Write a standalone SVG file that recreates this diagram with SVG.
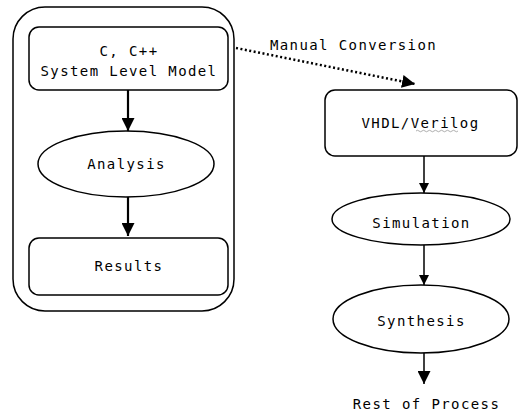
<svg xmlns="http://www.w3.org/2000/svg" width="518" height="412" viewBox="0 0 518 412">
<defs>
<style>
.box{fill:#fff;stroke:#000;stroke-width:1.5}
.lbl{font-family:"DejaVu Sans Mono","Liberation Mono",monospace;font-size:14px;letter-spacing:1.4px;fill:#000;text-anchor:middle}
.arr{stroke:#000;fill:none}
</style>
<marker id="ah" viewBox="0 0 10 10" refX="10" refY="5" markerWidth="10" markerHeight="10" markerUnits="userSpaceOnUse" orient="auto">
<path d="M0,0 L10,5 L0,10 Z" fill="#000"/>
</marker>
<marker id="ahL" viewBox="0 0 10 10" refX="10" refY="5" markerWidth="13" markerHeight="13" markerUnits="userSpaceOnUse" orient="auto">
<path d="M0,0 L10,5 L0,10 Z" fill="#000"/>
</marker>
</defs>
<rect width="518" height="412" fill="#fff"/>
<g id="container">
<rect class="box" x="13" y="7" width="221" height="304" rx="32" ry="32"/>
</g>
<g id="system-model">
<rect class="box" x="29" y="27" width="199" height="63" rx="10" ry="10"/>
<text class="lbl" x="129" y="56">C, C++</text>
<text class="lbl" x="129" y="76">System Level Model</text>
</g>
<g id="analysis">
<ellipse class="box" cx="126" cy="164" rx="88" ry="33"/>
<text class="lbl" x="126.5" y="169">Analysis</text>
</g>
<g id="results">
<rect class="box" x="29" y="238" width="199" height="57" rx="10" ry="10"/>
<text class="lbl" x="129" y="271">Results</text>
</g>
<g id="vhdl">
<rect class="box" x="325" y="90" width="192" height="66" rx="10" ry="10"/>
<text class="lbl" x="420.5" y="128">VHDL/Verilog</text>
<path d="M416,131 q1.5,-1.5 3,0 t3,0 t3,0 t3,0 t3,0 t3,0 t3,0 t3,0 t3,0 t3,0 t3,0 t3,0 t3,0 t3,0" stroke="#999" stroke-width="0.8" fill="none"/>
</g>
<g id="simulation">
<ellipse class="box" cx="421" cy="219" rx="89" ry="26"/>
<text class="lbl" x="421.5" y="228">Simulation</text>
</g>
<g id="synthesis">
<ellipse class="box" cx="421" cy="319" rx="88" ry="34"/>
<text class="lbl" x="421.5" y="326">Synthesis</text>
</g>
<g id="rest">
<text class="lbl" x="426.5" y="409">Rest of Process</text>
</g>
<g id="connectors">
<line class="arr" x1="128" y1="90" x2="128" y2="131" stroke-width="2.2" marker-end="url(#ahL)"/>
<line class="arr" x1="128" y1="197" x2="128" y2="236" stroke-width="2.2" marker-end="url(#ahL)"/>
<line class="arr" x1="236" y1="48" x2="415" y2="84" stroke-width="2.5" stroke-dasharray="2,2.5" marker-end="url(#ahL)"/>
<text class="lbl" x="353.5" y="50">Manual Conversion</text>
<line class="arr" x1="424" y1="156" x2="424" y2="193" stroke-width="1.5" marker-end="url(#ah)"/>
<line class="arr" x1="424" y1="245" x2="424" y2="285" stroke-width="1.5" marker-end="url(#ah)"/>
<line class="arr" x1="424" y1="353" x2="424" y2="384" stroke-width="1.5" marker-end="url(#ahL)"/>
</g>
</svg>
